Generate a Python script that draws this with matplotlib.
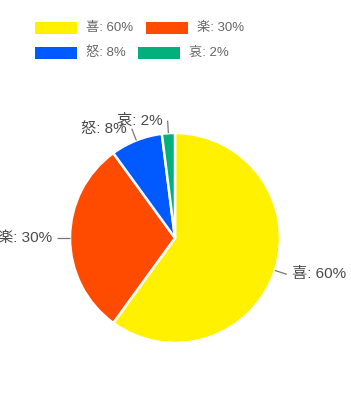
import numpy as np
import matplotlib
matplotlib.use("Agg")
import matplotlib.pyplot as plt
from matplotlib.patches import Rectangle

plt.rcParams['font.family'] = ['Liberation Sans', 'Noto Sans CJK JP', 'DejaVu Sans']

# Emotion share data
categories = ['喜', '楽', '怒', '哀']
values = [60, 30, 8, 2]
colors = ['#FFF100', '#FF4B00', '#005AFF', '#03AF7A']

W, H = 351, 416
fig = plt.figure(figsize=(W / 100, H / 100), dpi=100)

# Pie placed by pixel center / radius
cx, cy, r = 175, 238, 105
ax = fig.add_axes([(cx - r) / W, (H - cy - r) / H, 2 * r / W, 2 * r / H])
wedges, _ = ax.pie(values, colors=colors, startangle=90, counterclock=False,
                   radius=1.0,
                   wedgeprops=dict(edgecolor='white', linewidth=1.8))
ax.set_xlim(-1, 1)
ax.set_ylim(-1, 1)
ax.set_aspect('auto')
ax.axis('off')

label_color = '#4a4a4a'
line_color = '#777777'
for w, cat, v in zip(wedges, categories, values):
    mid = np.deg2rad((w.theta1 + w.theta2) / 2)
    c, s = np.cos(mid), np.sin(mid)
    r0, r1 = 1.0, 1.12
    ax.plot([r0 * c, r1 * c], [r0 * s, r1 * s], color=line_color, lw=0.9,
            clip_on=False, solid_capstyle='butt')
    gap = 0.05
    if c >= 0:
        ha = 'left'
        tx = r1 * c + gap
    else:
        ha = 'right'
        tx = r1 * c - gap
    ty = r1 * s
    ax.text(tx, ty, f'{cat}: {v}%', ha=ha, va='center', fontsize=11,
            color=label_color, clip_on=False)

# Legend drawn in pixel coordinates (two rows)
legend_layout = [(35, 28), (146, 28), (35, 53), (138, 53)]
for (lx, ly), cat, v, col in zip(legend_layout, categories, values, colors):
    rect = Rectangle((lx / W, (H - ly - 5.5) / H), 42 / W, 11 / H,
                     transform=fig.transFigure, facecolor=col,
                     edgecolor='none')
    fig.add_artist(rect)
    fig.text((lx + 51) / W, (H - ly) / H, f'{cat}: {v}%', ha='left',
             va='center', fontsize=9.5, color='#666666')

fig.savefig('out.png', dpi=100, facecolor='white')
